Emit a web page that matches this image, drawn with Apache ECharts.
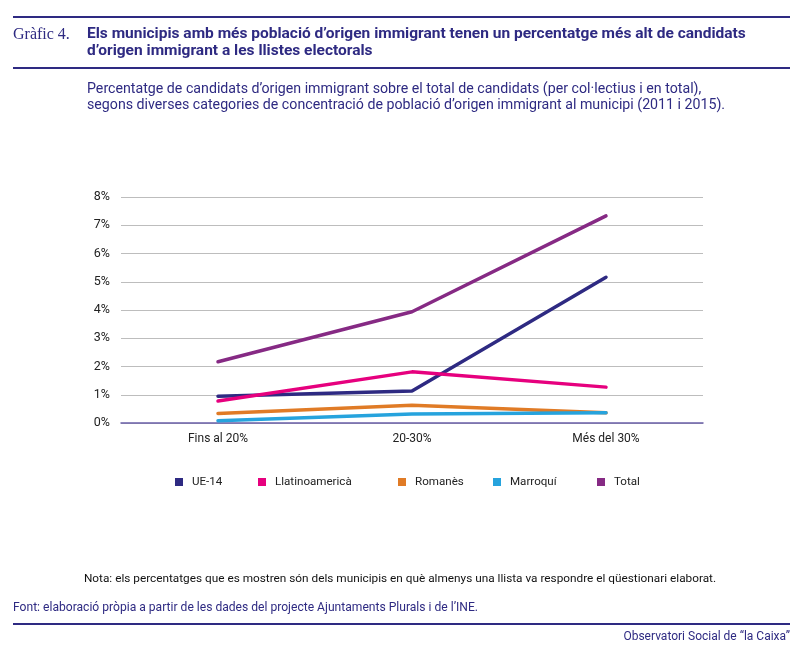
<!DOCTYPE html>
<html>
<head>
<meta charset="utf-8">
<script src="https://cdn.jsdelivr.net/npm/echarts@6/dist/echarts.min.js"></script>
<style>
  html, body { margin: 0; padding: 0; background: #fff; }
  #chart { width: 800px; height: 650px; }
</style>
</head>
<body>
<div id="chart"></div>
<script>
// categories de concentracio
var categories = ['Fins al 20%', '20-30%', 'Més del 30%'];
var yTicks = [0, 1, 2, 3, 4, 5, 6, 7, 8];

// valors llegits del grafic (%)
var ue14 = [0.95, 1.13, 5.16];
var llatinoamerica = [0.78, 1.81, 1.27];
var romanes = [0.34, 0.63, 0.36];
var marroqui = [0.08, 0.32, 0.36];
var total = [2.17, 3.94, 7.33];

var seriesNames = ['UE-14', 'Llatinoamericà', 'Romanès', 'Marroquí', 'Total'];
var seriesData = [ue14, llatinoamerica, romanes, marroqui, total];
var seriesColors = ['#2e2a82', '#e6007e', '#e07b26', '#26a3dd', '#862a84'];
var legendLeft = [175, 258, 398, 493, 597];

var navy = '#2e2a82';
var baseFont = 'Roboto';

var chart = echarts.init(document.getElementById('chart'));

var legends = [];
for (var i = 0; i < seriesNames.length; i++) {
    legends.push({
        data: [seriesNames[i]],
        left: legendLeft[i],
        top: 476,
        padding: 0,
        itemWidth: 8,
        itemHeight: 8,
        icon: 'rect',
        selectedMode: false,
        textStyle: { fontFamily: baseFont, fontSize: 11.6, color: '#222', padding: [0, 0, 0, 4] }
    });
}

var series = [];
for (var j = 0; j < seriesNames.length; j++) {
    series.push({
        name: seriesNames[j],
        type: 'line',
        data: seriesData[j],
        symbol: 'none',
        z: j === 4 ? 5 : 3,
        lineStyle: { width: 3.5, color: seriesColors[j], cap: 'round' },
        itemStyle: { color: seriesColors[j] }
    });
}

var option = {
    animation: false,
    backgroundColor: '#fff',
    title: [
        {
            text: 'Gràfic 4.',
            left: 13, top: 27, padding: 0,
            textStyle: { fontFamily: 'Liberation Serif', fontWeight: 'normal', fontSize: 16, color: navy }
        },
        {
            text: 'Els municipis amb més població d\u2019origen immigrant tenen un percentatge més alt de candidats\nd\u2019origen immigrant a les llistes electorals',
            left: 87, top: 26, padding: 0,
            textStyle: { fontFamily: baseFont, fontWeight: 'bold', fontSize: 15.5, lineHeight: 17, color: navy }
        },
        {
            text: 'Percentatge de candidats d\u2019origen immigrant sobre el total de candidats (per col·lectius i en total),\nsegons diverses categories de concentració de població d\u2019origen immigrant al municipi (2011 i 2015).',
            left: 87, top: 82, padding: 0,
            textStyle: { fontFamily: baseFont, fontWeight: 'normal', fontSize: 14.2, lineHeight: 15.5, color: navy }
        },
        {
            text: 'Nota: els percentatges que es mostren són dels municipis en què almenys una llista va respondre el qüestionari elaborat.',
            left: 'center', top: 573, padding: 0,
            textStyle: { fontFamily: baseFont, fontWeight: 'normal', fontSize: 11.8, color: '#111' }
        },
        {
            text: 'Font: elaboració pròpia a partir de les dades del projecte Ajuntaments Plurals i de l\u2019INE.',
            left: 13, top: 602, padding: 0,
            textStyle: { fontFamily: baseFont, fontWeight: 'normal', fontSize: 12.1, color: navy }
        },
        {
            text: 'Observatori Social de \u201Cla Caixa\u201D',
            right: 10, top: 631, padding: 0,
            textStyle: { fontFamily: baseFont, fontWeight: 'normal', fontSize: 12, color: navy }
        }
    ],
    graphic: [
        { type: 'line', shape: { x1: 13, y1: 17, x2: 790, y2: 17 }, style: { stroke: navy, lineWidth: 2 } },
        { type: 'line', shape: { x1: 13, y1: 68, x2: 790, y2: 68 }, style: { stroke: navy, lineWidth: 2 } },
        { type: 'line', shape: { x1: 13, y1: 624, x2: 790, y2: 624 }, style: { stroke: navy, lineWidth: 2 } }
    ],
    legend: legends,
    grid: { left: 121, right: 97, top: 197, bottom: 227 },
    xAxis: {
        type: 'category',
        data: categories,
        boundaryGap: true,
        axisLine: { lineStyle: { color: '#6a5fa8', width: 1.5 } },
        axisTick: { show: false },
        axisLabel: { fontFamily: baseFont, fontSize: 12, color: '#222', margin: 10 }
    },
    yAxis: {
        type: 'value',
        min: yTicks[0],
        max: yTicks[yTicks.length - 1],
        interval: 1,
        axisLine: { show: false },
        axisTick: { show: false },
        splitLine: { lineStyle: { color: '#bdbdbd', width: 1 } },
        axisLabel: { fontFamily: baseFont, fontSize: 12.5, color: '#222', margin: 11, formatter: '{value}%' }
    },
    series: series
};

chart.setOption(option);
</script>
</body>
</html>
